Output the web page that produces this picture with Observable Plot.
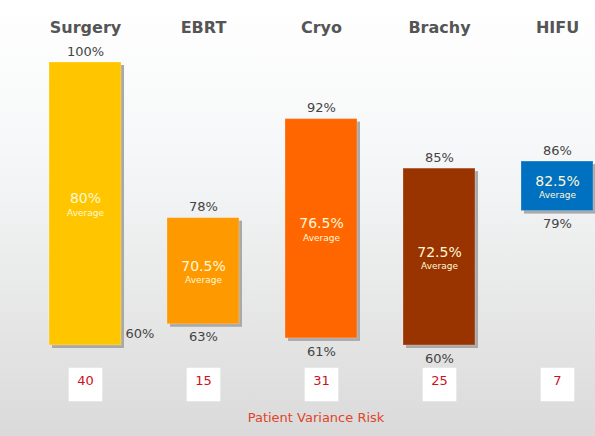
<!DOCTYPE html>
<html><head><meta charset="utf-8">
<script src="https://cdn.jsdelivr.net/npm/d3@7"></script>
<script src="https://cdn.jsdelivr.net/npm/@observablehq/plot@0.6"></script>
<style>body{margin:0;background:#fff;} #chart svg{display:block;}</style>
</head><body><div id="chart"></div>
<script>
const categories = ["Surgery", "EBRT", "Cryo", "Brachy", "HIFU"];
const maxValues = [100, 78, 92, 85, 86];
const minValues = [60, 63, 61, 60, 79];
const averages = [80, 70.5, 76.5, 72.5, 82.5];
const averageLabels = ["80%", "70.5%", "76.5%", "72.5%", "82.5%"];
const varianceRisk = [40, 15, 31, 25, 7];
const colors = ["#ffc600", "#ff9900", "#ff6600", "#993300", "#0070c0"];
const footerLabel = "Patient Variance Risk";

const rows = categories.map((c, i) => ({
  category: c, max: maxValues[i], min: minValues[i],
  avg: averages[i], avgLabel: averageLabels[i], risk: varianceRisk[i]
}));

const font = "DejaVu Sans";
const chart = Plot.plot({
  width: 595, height: 436,
  marginTop: 0, marginBottom: 0, marginLeft: 0, marginRight: 0,
  x: {type: "band", domain: categories, range: [25, 617.5], paddingInner: 0.39, paddingOuter: 0.195, axis: null},
  y: {domain: [60, 100], range: [345, 62], axis: null},
  color: {domain: categories, range: colors},
  style: {background: "linear-gradient(180deg, #ffffff 0%, #f6f7f8 35%, #dadada 100%)", fontFamily: font},
  marks: [
    Plot.barY(rows, {x: "category", y1: "min", y2: "max", fill: "#a9a9a9", dx: 3, dy: 3}),
    Plot.barY(rows, {x: "category", y1: "min", y2: "max", fill: "category", stroke: "#ffffff", strokeOpacity: 0.25, strokeWidth: 1}),
    Plot.text(rows, {x: "category", text: "category", frameAnchor: "top", dy: 21, fontWeight: "bold", fontSize: 16, fill: "#555"}),
    Plot.text(rows, {x: "category", y: "max", text: d => d.max + "%", dy: -11, fontSize: 13, fill: "#444"}),
    Plot.text(rows.filter(d => d.category !== "Surgery"), {x: "category", y: "min", text: d => d.min + "%", dy: 13, fontSize: 13, fill: "#444"}),
    Plot.text(rows.filter(d => d.category === "Surgery"), {x: "category", y: "min", text: d => d.min + "%", dx: 40, dy: -12, textAnchor: "start", fontSize: 13, fill: "#444"}),
    Plot.text(rows, {x: "category", y: "avg", text: "avgLabel", dy: -5, fontSize: 14, fill: "#fff8d8"}),
    Plot.text(rows, {x: "category", y: "avg", text: () => "Average", dy: 9, fontSize: 9, fill: "#fff8d8"}),
    Plot.dot(rows, {x: "category", frameAnchor: "bottom", dy: -52, symbol: "square", r: 19, fill: "white"}),
    Plot.text(rows, {x: "category", frameAnchor: "bottom", dy: -52, text: d => String(d.risk), fontSize: 13, fill: "#cc1122"}),
    Plot.text([footerLabel], {text: d => d, frameAnchor: "bottom", dx: 18, dy: -15, fontSize: 13, fill: "#e0442a"})
  ]
});
document.getElementById("chart").append(chart);
</script>
</body></html>
